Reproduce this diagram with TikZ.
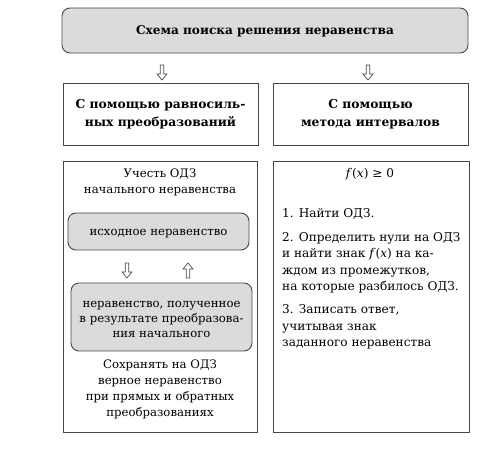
\documentclass[tikz,border=0pt]{standalone}
\usepackage{fontspec}
\setmainfont{DejaVu Serif}
\begin{document}
\begin{tikzpicture}[x=1pt,y=-1pt,
  frame/.style={draw=black!72, line width=0.9pt},
  grey/.style={frame, fill=black!14, rounded corners=8pt},
  arrowline/.style={draw=black!72, line width=0.7pt, fill=white},
  txt/.style={inner sep=0pt, align=center, font=\fontsize{11.7}{16}\selectfont},
  btxt/.style={inner sep=0pt, align=center, font=\bfseries\fontsize{12.3}{18}\selectfont},
  ltxt/.style={inner sep=0pt, align=left, anchor=west, font=\fontsize{12.1}{16.5}\selectfont},
  hollowdown/.pic={\path[arrowline] (-1.8,0) -- (1.8,0) -- (1.8,9) -- (5,9) -- (0,15) -- (-5,9) -- (-1.8,9) -- cycle;},
  hollowup/.pic={\path[arrowline] (-1.8,15) -- (1.8,15) -- (1.8,6) -- (5,6) -- (0,0) -- (-5,6) -- (-1.8,6) -- cycle;}
]
\useasboundingbox (0,0) rectangle (499,457);
% top
\draw[grey] (62,8) rectangle (468,53);
\node[btxt, font=\bfseries\fontsize{12.1}{18}\selectfont] (title) at (265,31) {Схема поиска решения неравенства};
\pic at (162,65) {hollowdown};
\pic at (368,65) {hollowdown};
% second row
\draw[frame] (63,83) rectangle (258,145);
\node[btxt] (m1) at (160.5,114) {С помощью равносиль-\\ных преобразований};
\draw[frame] (273,83) rectangle (468,145);
\node[btxt] (m2) at (370.5,114) {С помощью\\метода интервалов};
% third row left
\draw[frame] (63,161) rectangle (257,432);
\node[txt] (odz) at (160,182) {Учесть ОДЗ\\начального неравенства};
\draw[grey] (68,213) rectangle (249,250);
\node[txt] (ish) at (158.5,233.5) {исходное неравенство};
\pic at (127,263) {hollowdown};
\pic at (188,263) {hollowup};
\draw[grey] (71,283) rectangle (252,351);
\node[txt, font=\fontsize{11.7}{15}\selectfont] (pol) at (161.5,319) {неравенство, полученное\\в результате преобразова-\\ния начального};
\node[txt] (keep) at (160,389.5) {Сохранять на ОДЗ\\верное неравенство\\при прямых и обратных\\преобразованиях};
% third row right
\draw[frame] (273,161) rectangle (469,432);
\node[txt, font=\fontsize{12.1}{16}\selectfont] (fx) at (370,174) {\textit{f}(\textit{x}) ≥ 0};
\node[ltxt] (p1) at (282,214) {1. Найти ОДЗ.};
\node[ltxt] (p2) at (282,263) {2. Определить нули на ОДЗ\\и найти знак \textit{f}(\textit{x}) на ка-\\ждом из промежутков,\\на которые разбилось ОДЗ.};
\node[ltxt] (p3) at (282,327) {3. Записать ответ,\\учитывая знак\\заданного неравенства};
\end{tikzpicture}
\end{document}
